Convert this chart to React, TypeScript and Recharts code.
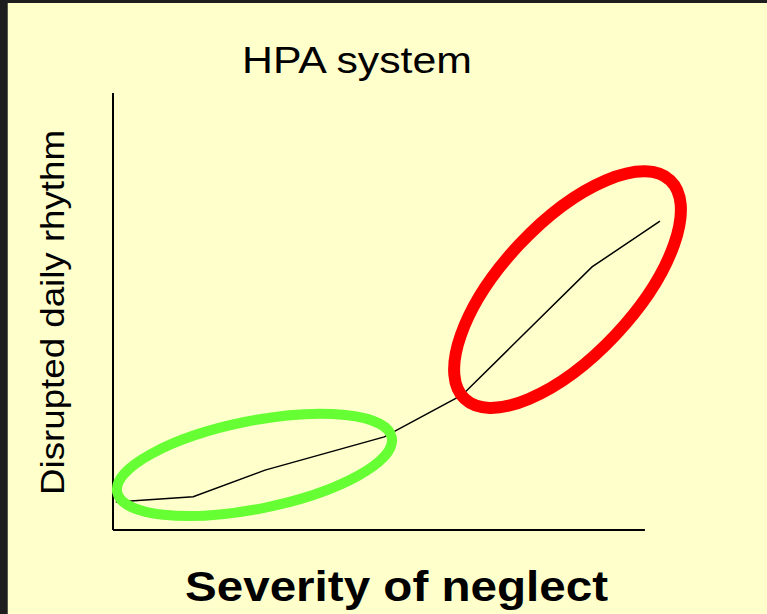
import { LineChart, Line, XAxis, YAxis, ReferenceLine, ReferenceDot } from 'recharts';

// severity of neglect (x) vs disrupted daily rhythm (y), arbitrary 0-100 units
const severity = [0.5, 14.4, 27.3, 48.7, 62.7, 86.0, 98.2];
const disruption = [6.4, 7.6, 13.7, 21.3, 30.9, 60.2, 70.7];

// highlighted regions (centre in data units)
const regionX = [25.4, 81.6];
const regionY = [14.9, 55.0];
const regionColors = ['#66FF33', '#FF0000'];

const title = 'HPA system';
const xLabel = 'Severity of neglect';
const yLabel = 'Disrupted daily rhythm';

const W = 767;
const H = 614;
const FONT = '"Liberation Sans", Arial, Helvetica, sans-serif';

const data = severity.map((x, i) => ({ x, y: disruption[i] }));

// ellipse sizes in px, rotation in degrees
const ellipseStyle = [
  { rx: 140, ry: 44, rot: -11.3, sw: 10 },
  { rx: 150, ry: 66, rot: -46.8, sw: 12 },
];

function makeEllipse(i: number) {
  return (props: any) => {
    const { cx, cy } = props;
    const s = ellipseStyle[i];
    return (
      <ellipse
        cx={cx} cy={cy} rx={s.rx} ry={s.ry}
        transform={`rotate(${s.rot} ${cx} ${cy})`}
        fill="none" stroke={regionColors[i]} strokeWidth={s.sw}
      />
    );
  };
}

export default function App() {
  return (
    <div style={{ position: 'relative', width: W, height: H, background: '#1e1e1e', overflow: 'hidden' }}>
      <style>{`body{margin:0}`}</style>
      <div style={{ position: 'absolute', left: 7, top: 3, width: W - 7, height: H - 3, background: '#FFFFCC', borderLeft: '1px solid #5a5a4a', boxSizing: 'border-box' }} />
      <div style={{ position: 'absolute', left: 0, top: 0 }}>
        <LineChart width={W} height={H} data={data} margin={{ top: 93, right: 97, bottom: 84, left: 113 }}>
          <XAxis type="number" dataKey="x" domain={[0, 100]} hide />
          <YAxis type="number" domain={[0, 100]} hide />
          <ReferenceLine segment={[{ x: 0, y: 0 }, { x: 0, y: 100 }]} stroke="#000" strokeWidth={2} />
          <ReferenceLine segment={[{ x: 0, y: 0 }, { x: 95.5, y: 0 }]} stroke="#000" strokeWidth={2} />
          <Line type="linear" dataKey="y" stroke="#000" strokeWidth={1.5} dot={false} activeDot={false} isAnimationActive={false} />
          {regionX.map((x, i) => (
            <ReferenceDot key={i} x={x} y={regionY[i]} r={1} shape={makeEllipse(i)} ifOverflow="visible" />
          ))}
        </LineChart>
      </div>
      <svg width={W} height={H} style={{ position: 'absolute', left: 0, top: 0, pointerEvents: 'none' }}>
        <text x={357} y={73} textAnchor="middle" fontFamily={FONT} fontSize={36} fill="#000"
          textLength={230} lengthAdjust="spacingAndGlyphs">{title}</text>
        <text x={396.5} y={601} textAnchor="middle" fontFamily={FONT} fontSize={43} fontWeight="bold" fill="#000"
          textLength={423} lengthAdjust="spacingAndGlyphs">{xLabel}</text>
        <text x={0} y={0} transform="translate(64 312.5) rotate(-90)" textAnchor="middle" fontFamily={FONT} fontSize={33} fill="#000"
          textLength={365} lengthAdjust="spacingAndGlyphs">{yLabel}</text>
      </svg>
    </div>
  );
}
